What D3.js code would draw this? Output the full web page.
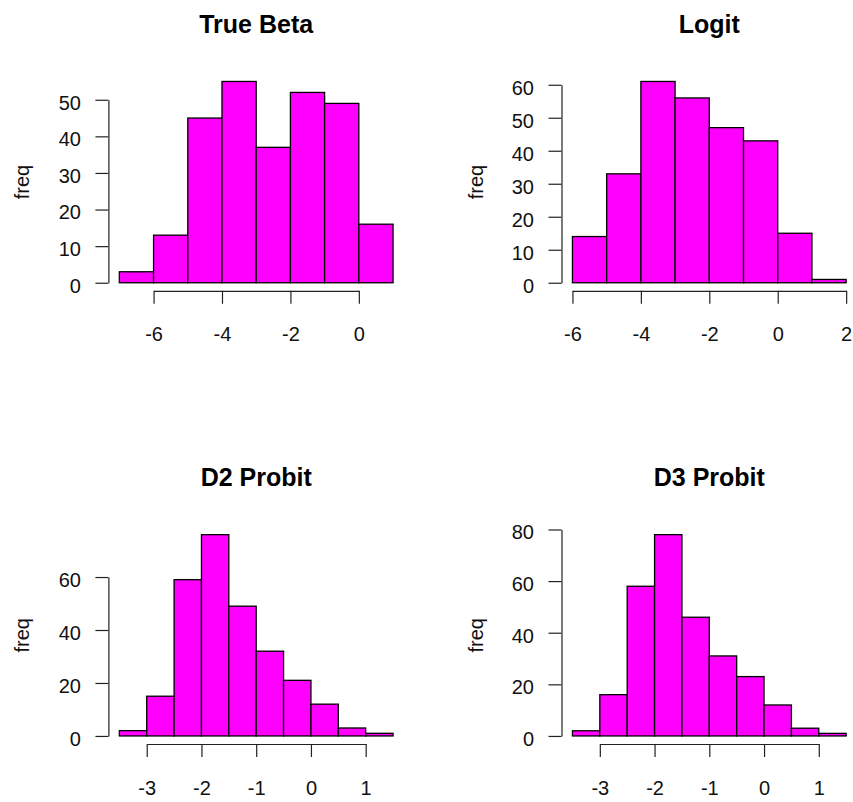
<!DOCTYPE html>
<html>
<head>
<meta charset="utf-8">
<script src="https://cdn.jsdelivr.net/npm/d3@7"></script>
<style>
  body { margin: 0; background: #fff; }
  svg { display: block; font-family: "Liberation Sans", Arial, sans-serif; }
  .axis text { font-size: 20px; fill: #111; }
  .axis line, .axis path { stroke: #222; stroke-width: 1.2; }
</style>
</head>
<body>
<div id="chart"></div>
<script>
const width = 853;
const height = 802;

// histogram data (bin breaks + counts)
const titles = ['True Beta', 'Logit', 'D2 Probit', 'D3 Probit'];

const trueBetaBreaks = [-7, -6, -5, -4, -3, -2, -1, 0, 1];
const trueBetaCounts = [3, 13, 45, 55, 37, 52, 49, 16];

const logitBreaks = [-6, -5, -4, -3, -2, -1, 0, 1, 2];
const logitCounts = [14, 33, 61, 56, 47, 43, 15, 1];

const d2Breaks = [-3.5, -3, -2.5, -2, -1.5, -1, -0.5, 0, 0.5, 1, 1.5];
const d2Counts = [2, 15, 59, 76, 49, 32, 21, 12, 3, 1];

const d3Breaks = [-3.5, -3, -2.5, -2, -1.5, -1, -0.5, 0, 0.5, 1, 1.5];
const d3Counts = [2, 16, 58, 78, 46, 31, 23, 12, 3, 1];

// tick values
const trueBetaXTicks = [-6, -4, -2, 0];
const trueBetaYTicks = [0, 10, 20, 30, 40, 50];
const logitXTicks = [-6, -4, -2, 0, 2];
const logitYTicks = [0, 10, 20, 30, 40, 50, 60];
const d2XTicks = [-3, -2, -1, 0, 1];
const d2YTicks = [0, 20, 40, 60];
const d3XTicks = [-3, -2, -1, 0, 1];
const d3YTicks = [0, 20, 40, 60, 80];

const panels = [
  { title: titles[0], breaks: trueBetaBreaks, counts: trueBetaCounts, xTicks: trueBetaXTicks, yTicks: trueBetaYTicks },
  { title: titles[1], breaks: logitBreaks, counts: logitCounts, xTicks: logitXTicks, yTicks: logitYTicks },
  { title: titles[2], breaks: d2Breaks, counts: d2Counts, xTicks: d2XTicks, yTicks: d2YTicks },
  { title: titles[3], breaks: d3Breaks, counts: d3Counts, xTicks: d3XTicks, yTicks: d3YTicks },
];

// plot regions (2x2 grid, like par(mfrow=c(2,2)))
const colLeft = [108.4, 561.5];
const rowTop = [73.4, 526.6];
const plotW = 295.6;
const plotH = 217.4;

const svg = d3.select('#chart')
  .append('svg')
  .attr('width', width)
  .attr('height', height);

// R-style 4% axis extension
function extend([a, b]) {
  const pad = (b - a) * 0.04;
  return [a - pad, b + pad];
}

panels.forEach((p, i) => {
  const left = colLeft[i % 2];
  const top = rowTop[Math.floor(i / 2)];
  const bottom = top + plotH;

  const x = d3.scaleLinear()
    .domain(extend(d3.extent(p.breaks)))
    .range([left, left + plotW]);

  const y = d3.scaleLinear()
    .domain(extend([0, d3.max(p.counts)]))
    .range([bottom, top]);

  const bins = p.counts.map((c, k) => ({ x0: p.breaks[k], x1: p.breaks[k + 1], n: c }));

  const g = svg.append('g');

  g.selectAll('rect')
    .data(bins)
    .join('rect')
    .attr('x', (d) => x(d.x0))
    .attr('y', (d) => y(d.n))
    .attr('width', (d) => x(d.x1) - x(d.x0))
    .attr('height', (d) => y(0) - y(d.n))
    .attr('fill', '#ff00ff')
    .attr('stroke', '#000')
    .attr('stroke-width', 1.3);

  // axis line only spans first..last tick, like R
  const xt = p.xTicks;
  const xAxisScale = x.copy().domain([xt[0], xt[xt.length - 1]]).range([x(xt[0]), x(xt[xt.length - 1])]);
  g.append('g')
    .attr('class', 'axis')
    .attr('transform', `translate(0,${bottom})`)
    .call(d3.axisBottom(xAxisScale).tickValues(xt).tickSize(13).tickSizeOuter(0).tickPadding(23.5)
      .tickFormat((d) => String(d).replace('-', '-')));

  const yt = p.yTicks;
  const yAxisScale = y.copy().domain([yt[0], yt[yt.length - 1]]).range([y(yt[0]), y(yt[yt.length - 1])]);
  g.append('g')
    .attr('class', 'axis')
    .attr('transform', `translate(${left},0)`)
    .call(d3.axisLeft(yAxisScale).tickValues(yt).tickSize(13).tickSizeOuter(0).tickPadding(14.5))
    .selectAll('text')
    .attr('dy', '0.47em');

  g.selectAll('.axis').attr('font-family', null).attr('font-size', null);

  // title
  g.append('text')
    .attr('x', left + plotW / 2)
    .attr('y', top - 40.5)
    .attr('text-anchor', 'middle')
    .attr('font-size', 25)
    .attr('font-weight', 'bold')
    .attr('fill', '#000')
    .text(p.title);

  // y label
  g.append('text')
    .attr('transform', `translate(${left - 79},${top + plotH / 2}) rotate(-90)`)
    .attr('text-anchor', 'middle')
    .attr('font-size', 20)
    .attr('fill', '#111')
    .text('freq');
});
</script>
</body>
</html>
